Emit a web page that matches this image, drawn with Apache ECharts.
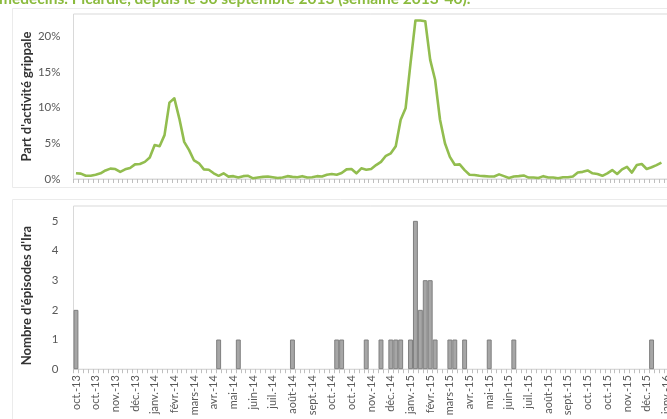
<html>
<head>
  <meta charset="utf-8" />
  <title>Activité grippale et épisodes d'Ira</title>
  <script type="text/javascript" src="https://cdn.jsdelivr.net/npm/echarts@6.0.0/dist/echarts.min.js"></script>
</head>
<body style="margin: 0; background: #fff">
  <div id="chart" style="width: 667px; height: 419px"></div>
<script type="text/javascript">
// part d'activité grippale (%) par semaine, depuis la semaine 2013-40
var grippe = [
  0.8, 0.75, 0.45, 0.45, 0.6, 0.8, 1.2, 1.45, 1.4, 1.0,
  1.35, 1.55, 2.05, 2.1, 2.4, 3.0, 4.75, 4.6, 6.15, 10.7,
  11.3, 8.5, 5.2, 4.05, 2.6, 2.2, 1.35, 1.3, 0.8, 0.45,
  0.8, 0.33, 0.4, 0.2, 0.4, 0.45, 0.1, 0.2, 0.3, 0.35,
  0.25, 0.15, 0.2, 0.4, 0.3, 0.25, 0.4, 0.2, 0.25, 0.4,
  0.35, 0.6, 0.7, 0.6, 0.85, 1.35, 1.4, 0.8, 1.5, 1.3,
  1.4, 1.95, 2.4, 3.25, 3.6, 4.6, 8.3, 9.9, 16.2, 22.2,
  22.2, 22.1, 16.7, 13.9, 8.3, 5.0, 3.1, 2.0, 2.05, 1.25,
  0.6, 0.55, 0.45, 0.4, 0.35, 0.35, 0.65, 0.4, 0.15, 0.35,
  0.4, 0.5, 0.2, 0.2, 0.15, 0.4, 0.2, 0.2, 0.1, 0.25,
  0.25, 0.35, 0.9, 1.0, 1.2, 0.8, 0.7, 0.45, 0.8, 1.25,
  0.7, 1.35, 1.7, 0.9, 1.95, 2.1, 1.4, 1.65, 1.95, 2.3
];

// nombre d'épisodes d'Ira par semaine
var episodes = [
  2, 0, 0, 0, 0, 0, 0, 0, 0, 0,
  0, 0, 0, 0, 0, 0, 0, 0, 0, 0,
  0, 0, 0, 0, 0, 0, 0, 0, 0, 1,
  0, 0, 0, 1, 0, 0, 0, 0, 0, 0,
  0, 0, 0, 0, 1, 0, 0, 0, 0, 0,
  0, 0, 0, 1, 1, 0, 0, 0, 0, 1,
  0, 0, 1, 0, 1, 1, 1, 0, 1, 5,
  2, 3, 3, 1, 0, 0, 1, 1, 0, 1,
  0, 0, 0, 0, 1, 0, 0, 0, 0, 1,
  0, 0, 0, 0, 0, 0, 0, 0, 0, 0,
  0, 0, 0, 0, 0, 0, 0, 0, 0, 0,
  0, 0, 0, 0, 0, 0, 0, 1, 0, 0,
  0
];

// une étiquette toutes les 4 semaines
var tickLabels = [
  'oct.-13', 'oct.-13', 'nov.-13', 'déc.-13', 'janv.-14', 'févr.-14', 'mars-14',
  'avr.-14', 'mai-14', 'juin-14', 'juil.-14', 'août-14', 'sept.-14', 'oct.-14',
  'oct.-14', 'nov.-14', 'déc.-14', 'janv.-15', 'févr.-15', 'mars-15', 'avr.-15',
  'mai-15', 'juin-15', 'juil.-15', 'août-15', 'sept.-15', 'oct.-15', 'oct.-15',
  'nov.-15', 'déc.-15', 'janv.-16'
];

var titleText = 'médecins. Picardie, depuis le 30 septembre 2013 (semaine 2013-40).';

// semaines ISO 2013-40 ... 2016-03
var weeks = [];
var yearWeeks = [[2013, 40, 52], [2014, 1, 52], [2015, 1, 53], [2016, 1, 3]];
yearWeeks.forEach(function (y) {
  for (var w = y[1]; w <= y[2]; w++) {
    weeks.push(y[0] + '-' + (w < 10 ? '0' + w : w));
  }
});

var font = 'Lato, "Open Sans", sans-serif';
var labelColor = '#595959';

var dom = document.getElementById('chart');
var myChart = echarts.init(dom, null, { renderer: 'canvas' });

var option = {
  animation: false,
  backgroundColor: '#fff',
  title: {
    text: titleText,
    left: -1,
    top: -9,
    padding: 0,
    textStyle: { color: '#8bbb3e', fontSize: 15.5, fontWeight: 'bold', fontFamily: font }
  },
  graphic: [
    { type: 'rect', shape: { x: 12.5, y: 8.5, width: 700, height: 179 }, style: { fill: null, stroke: '#ebebeb', lineWidth: 1 }, silent: true },
    { type: 'rect', shape: { x: 12.5, y: 199.5, width: 700, height: 260 }, style: { fill: null, stroke: '#ebebeb', lineWidth: 1 }, silent: true }
  ],
  grid: [
    { left: 73.5, right: -1.8, top: 14, height: 165, show: true, borderColor: '#d9d9d9', borderWidth: 1, outerBoundsMode: 'none' },
    { left: 73.5, right: -1.8, top: 206, height: 163.2, show: true, borderColor: '#d9d9d9', borderWidth: 1, outerBoundsMode: 'none' }
  ],
  xAxis: [
    {
      type: 'category', gridIndex: 0, data: weeks, boundaryGap: true,
      axisLine: { lineStyle: { color: '#d9d9d9', width: 1 } },
      axisTick: { show: true, interval: 0, length: 4, lineStyle: { color: '#bfbfbf' } },
      axisLabel: { show: false }
    },
    {
      type: 'category', gridIndex: 1, data: weeks, boundaryGap: true,
      axisLine: { lineStyle: { color: '#d9d9d9', width: 1 } },
      axisTick: { show: true, interval: 0, length: 4, lineStyle: { color: '#bfbfbf' } },
      axisLabel: {
        interval: 3, rotate: 90, margin: 6,
        color: labelColor, fontSize: 11, fontFamily: font,
        formatter: function (value, idx) {
          return tickLabels[Math.round(idx / 4)] || '';
        }
      }
    }
  ],
  yAxis: [
    {
      type: 'value', gridIndex: 0, min: 0, max: 23.12, interval: 5,
      name: "Part d'activité grippale", nameLocation: 'middle', nameGap: 40, nameMoveOverlap: false,
      nameTextStyle: { color: '#333', fontSize: 13, fontWeight: 'bold', fontFamily: font },
      axisLine: { show: false }, axisTick: { show: false }, splitLine: { show: false },
      axisLabel: {
        showMaxLabel: false, margin: 13,
        color: labelColor, fontSize: 11.5, fontFamily: font,
        formatter: function (v) { return v + '%'; }
      }
    },
    {
      type: 'value', gridIndex: 1, min: 0, max: 5.5, interval: 1,
      name: "Nombre d'épisodes d'Ira", nameLocation: 'middle', nameGap: 40, nameMoveOverlap: false,
      nameTextStyle: { color: '#333', fontSize: 13, fontWeight: 'bold', fontFamily: font, padding: [0, 16, 0, 0] },
      axisLine: { show: false }, axisTick: { show: false }, splitLine: { show: false },
      axisLabel: {
        showMaxLabel: false, margin: 15,
        color: labelColor, fontSize: 11.5, fontFamily: font
      }
    }
  ],
  series: [
    {
      type: 'line', xAxisIndex: 0, yAxisIndex: 0,
      data: grippe, symbol: 'none', smooth: false,
      lineStyle: { color: '#92bd4f', width: 2.6, join: 'round' }
    },
    {
      type: 'bar', xAxisIndex: 1, yAxisIndex: 1,
      data: episodes.map(function (v) { return v === 0 ? null : v; }),
      barCategoryGap: '0%',
      itemStyle: { color: '#a6a6a6', borderColor: '#7f7f7f', borderWidth: 1 }
    }
  ]
};

myChart.setOption(option);
</script>
</body>
</html>
